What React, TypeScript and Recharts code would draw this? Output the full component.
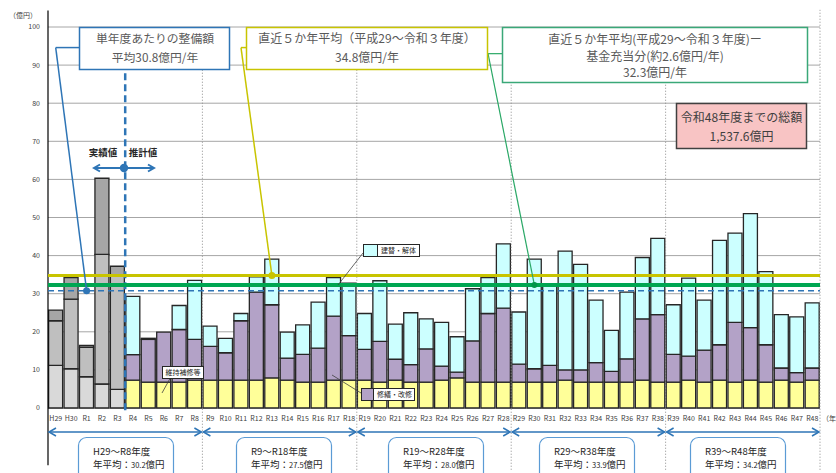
import React from 'react';
import { ComposedChart, Bar, XAxis, YAxis, CartesianGrid, ReferenceLine, ReferenceDot } from 'recharts';

// ---- data ----
const categories = [
  'H29', 'H30', 'R1', 'R2', 'R3', 'R4', 'R5', 'R6', 'R7', 'R8',
  'R9', 'R10', 'R11', 'R12', 'R13', 'R14', 'R15', 'R16', 'R17', 'R18',
  'R19', 'R20', 'R21', 'R22', 'R23', 'R24', 'R25', 'R26', 'R27', 'R28',
  'R29', 'R30', 'R31', 'R32', 'R33', 'R34', 'R35', 'R36', 'R37', 'R38',
  'R39', 'R40', 'R41', 'R42', 'R43', 'R44', 'R45', 'R46', 'R47', 'R48',
];

// actual values (H29–R3), grey stacks
const actualYears = ['H29', 'H30', 'R1', 'R2', 'R3'];
const actualLight = [11.2, 10.3, 8.2, 6.3, 4.9];
const actualMid = [11.7, 18.3, 7.7, 34.0, 30.0];
const actualDark = [2.8, 5.6, 0.5, 20.0, 2.3];

// estimates (R4–R48)
const estimateYears = [
  'R4', 'R5', 'R6', 'R7', 'R8', 'R9', 'R10', 'R11', 'R12', 'R13',
  'R14', 'R15', 'R16', 'R17', 'R18', 'R19', 'R20', 'R21', 'R22', 'R23',
  'R24', 'R25', 'R26', 'R27', 'R28', 'R29', 'R30', 'R31', 'R32', 'R33',
  'R34', 'R35', 'R36', 'R37', 'R38', 'R39', 'R40', 'R41', 'R42', 'R43',
  'R44', 'R45', 'R46', 'R47', 'R48',
];
const maintenance = [ // 維持補修等
  7.3, 6.8, 6.8, 6.8, 7.3, 7.3, 7.3, 7.3, 7.3, 7.9,
  7.3, 6.8, 6.8, 7.3, 7.3, 7.3, 6.8, 7.3, 6.8, 6.8,
  7.3, 7.9, 6.8, 6.8, 6.8, 6.8, 6.8, 6.8, 7.3, 6.8,
  6.8, 6.8, 6.8, 7.3, 6.8, 6.8, 7.3, 6.8, 7.3, 6.8,
  7.3, 6.8, 7.3, 6.8, 7.3,
];
const repair = [ // 修繕・改修
  6.7, 11.2, 13.1, 13.8, 10.7, 8.9, 7.2, 15.6, 23.1, 19.2,
  5.8, 7.3, 8.9, 16.8, 11.7, 8.1, 10.7, 5.5, 4.6, 8.7,
  3.7, 1.5, 10.8, 18.0, 19.4, 4.7, 3.5, 4.4, 2.7, 3.2,
  5.1, 2.8, 6.1, 16.1, 17.7, 7.3, 6.3, 8.4, 9.3, 15.7,
  13.8, 9.8, 3.2, 2.5, 3.2,
];
const rebuild = [ // 建替・解体
  15.3, 0.3, 0, 6.3, 15.5, 5.3, 3.8, 1.9, 4.0, 12.0,
  6.8, 7.7, 12.1, 10.1, 13.8, 9.4, 15.9, 9.2, 13.6, 7.9,
  11.5, 9.3, 13.7, 9.4, 16.9, 13.7, 28.8, 21.3, 31.2, 27.7,
  16.4, 10.8, 17.5, 16.1, 20.0, 13.0, 20.5, 13.1, 27.4, 23.4,
  29.9, 19.2, 14.0, 14.6, 17.1,
];

const yTicks = [0, 10, 20, 30, 40, 50, 60, 70, 80, 90, 100];

const avgAll = 30.8;        // 単年度あたりの整備額
const avgRecent = 34.8;     // 直近5か年平均
const avgRecentNet = 32.3;  // 基金充当分を除く

const periodLabels = ['H29～R8年度', 'R9～R18年度', 'R19～R28年度', 'R29～R38年度', 'R39～R48年度'];
const periodAverages = ['30.2', '27.5', '28.0', '33.9', '34.2'];
const periodFrom = ['H29', 'R9', 'R19', 'R29', 'R38'];
const periodTo = ['R9', 'R19', 'R29', 'R39', 'R48'];
const periodPos: ('start' | 'end')[] = ['start', 'start', 'start', 'start', 'end'];
const dividerYears = ['R9', 'R19', 'R29', 'R39'];

const data = categories.map((cat) => {
  const ai = actualYears.indexOf(cat);
  const ei = estimateYears.indexOf(cat);
  return {
    cat,
    g1: ai >= 0 ? actualLight[ai] : null,
    g2: ai >= 0 ? actualMid[ai] : null,
    g3: ai >= 0 ? actualDark[ai] : null,
    m: ei >= 0 ? maintenance[ei] : null,
    r: ei >= 0 ? repair[ei] : null,
    b: ei >= 0 && rebuild[ei] > 0 ? rebuild[ei] : null,
  };
});

// ---- styles ----
const BLUE = '#2e75b6';
const YELLOW = '#c8c400';
const GREEN = '#00a651';
const TEXT = '#595959';
const FONT = '"Noto Sans CJK JP", "Noto Sans", sans-serif';
const ARROW_Y = -6.3;

const ArrowShape = (p: any) => {
  const { x1, y1, x2, y2 } = p;
  const a = x1 + 1;
  const b = x2 - 1;
  return (
    <g stroke={BLUE} strokeWidth={1.5} fill="none">
      <line x1={a} y1={y1} x2={b} y2={y2} />
      <polyline points={`${a + 7},${y1 - 4} ${a},${y1} ${a + 7},${y1 + 4}`} />
      <polyline points={`${b - 7},${y2 - 4} ${b},${y2} ${b - 7},${y2 + 4}`} />
    </g>
  );
};

const groupBoxX = [78, 236, 388, 539, 690];

export default function App() {
  const barStroke = '#262626';
  return (
    <div style={{ position: 'absolute', left: 0, top: 0, width: 836, height: 473, background: '#fff', fontFamily: FONT, overflow: 'hidden' }}>
      <ComposedChart
        width={836}
        height={473}
        data={data}
        margin={{ top: 27, right: 16, bottom: 0, left: 0 }}
        barCategoryGap="4%"
      >
        <CartesianGrid vertical={false} stroke="#a6a6a6" strokeWidth={1} />
        <XAxis
          dataKey="cat"
          height={65}
          interval={0}
          tickLine={false}
          axisLine={false}
          tick={{ fontSize: 7, fill: '#404040' }}
        />
        <YAxis
          width={48}
          domain={[0, 100]}
          ticks={yTicks}
          tickLine={false}
          axisLine={false}
          tick={{ fontSize: 7, fill: '#404040' }}
        />
        <Bar dataKey="g1" stackId="s" fill="#d9d9d9" stroke={barStroke} strokeWidth={1.3} isAnimationActive={false} />
        <Bar dataKey="g2" stackId="s" fill="#bfbfbf" stroke={barStroke} strokeWidth={1.3} isAnimationActive={false} />
        <Bar dataKey="g3" stackId="s" fill="#a6a6a6" stroke={barStroke} strokeWidth={1.3} isAnimationActive={false} />
        <Bar dataKey="m" stackId="s" fill="#ffff99" stroke={barStroke} strokeWidth={1.3} isAnimationActive={false} />
        <Bar dataKey="r" stackId="s" fill="#b3a2c7" stroke={barStroke} strokeWidth={1.3} isAnimationActive={false} />
        <Bar dataKey="b" stackId="s" fill="#ccffff" stroke={barStroke} strokeWidth={1.3} isAnimationActive={false} />

        {/* dotted period dividers */}
        {dividerYears.map((c) => (
          <ReferenceLine key={'div' + c} segment={[{ x: c, y: -16.2 }, { x: c, y: 100 }]} position="start"
            ifOverflow="visible" stroke="#8c8c8c" strokeWidth={1} strokeDasharray="1 2" />
        ))}
        <ReferenceLine segment={[{ x: 'R48', y: -16.2 }, { x: 'R48', y: 104.5 }]} position="end"
          ifOverflow="visible" stroke="#8c8c8c" strokeWidth={1} strokeDasharray="1 2" />

        {/* y axis line (extended) */}
        <ReferenceLine segment={[{ x: 'H29', y: -15 }, { x: 'H29', y: 104.3 }]} position="start"
          ifOverflow="visible" stroke="#000" strokeWidth={1.2} />

        {/* actual / estimate divider */}
        <ReferenceLine segment={[{ x: 'R4', y: -0.6 }, { x: 'R4', y: 100 }]} position="start"
          ifOverflow="visible" stroke={BLUE} strokeWidth={2.5} strokeDasharray="7 4" />

        {/* average lines */}
        <ReferenceLine y={avgAll} ifOverflow="visible" stroke={BLUE} strokeWidth={1.5} strokeDasharray="6 4" />
        <ReferenceLine y={avgRecent} ifOverflow="visible" stroke={YELLOW} strokeWidth={3} />
        <ReferenceLine y={avgRecentNet} ifOverflow="visible" stroke={GREEN} strokeWidth={4} />

        {/* leader lines */}
        <ReferenceLine segment={[{ x: 'H29', y: 94.6 }, { x: 'R1', y: 94.6 }]} ifOverflow="visible" stroke={BLUE} strokeWidth={1.5} />
        <ReferenceLine segment={[{ x: 'H29', y: 94.6 }, { x: 'R1', y: avgAll }]} ifOverflow="visible" stroke={BLUE} strokeWidth={1.5} />
        <ReferenceLine segment={[{ x: 'R11', y: 94.6 }, { x: 'R12', y: 94.6 }]} ifOverflow="visible" stroke={YELLOW} strokeWidth={1.5} />
        <ReferenceLine segment={[{ x: 'R11', y: 94.6 }, { x: 'R13', y: avgRecent }]} ifOverflow="visible" stroke={YELLOW} strokeWidth={1.5} />
        <ReferenceLine segment={[{ x: 'R27', y: 93 }, { x: 'R29', y: 93 }]} ifOverflow="visible" stroke="#2aa866" strokeWidth={1.2} />
        <ReferenceLine segment={[{ x: 'R27', y: 93 }, { x: 'R30', y: avgRecentNet }]} ifOverflow="visible" stroke="#2aa866" strokeWidth={1.2} />
        <ReferenceDot x="R1" y={avgAll} r={3.5} fill={BLUE} stroke="none" ifOverflow="visible" />
        <ReferenceDot x="R13" y={avgRecent} r={3.5} fill={YELLOW} stroke="none" ifOverflow="visible" />
        <ReferenceDot x="R30" y={avgRecentNet} r={3} fill="#00964a" stroke="none" ifOverflow="visible" />

        {/* period arrows */}
        {periodFrom.map((f, i) => (
          <ReferenceLine key={'arr' + i} segment={[{ x: f, y: ARROW_Y }, { x: periodTo[i], y: ARROW_Y }]}
            position={periodPos[i]} ifOverflow="visible" shape={ArrowShape} />
        ))}
      </ComposedChart>

      <svg width={836} height={473} style={{ position: 'absolute', left: 0, top: 0, pointerEvents: 'none' }} fontFamily={FONT}>
        {/* unit labels */}
        <text x={23} y={17.5} fontSize={7} fill="#404040" textAnchor="middle">（億円）</text>
        <text x={822} y={420.5} fontSize={7} fill="#404040">（年度）</text>

        {/* blue box */}
        <rect x={79.5} y={27.5} width={150} height={42} fill="#fff" stroke={BLUE} strokeWidth={1.5} />
        <text x={155} y={42.5} fontSize={11.8} fill={TEXT} textAnchor="middle">単年度あたりの整備額</text>
        <text x={155} y={61.5} fontSize={11.8} fill={TEXT} textAnchor="middle">平均30.8億円/年</text>

        {/* yellow box */}
        <rect x={246.5} y={27.5} width={241} height={42} fill="#fff" stroke={YELLOW} strokeWidth={1.5} />
        <text x={367} y={42.5} fontSize={12} fill={TEXT} textAnchor="middle">直近５か年平均（平成29～令和３年度）</text>
        <text x={367} y={61.5} fontSize={12} fill={TEXT} textAnchor="middle">34.8億円/年</text>

        {/* green box */}
        <rect x={502.5} y={27.5} width={305} height={55} fill="#fff" stroke="#3aa878" strokeWidth={1.5} />
        <text x={655} y={44} fontSize={12} fill={TEXT} textAnchor="middle">直近５か年平均(平成29～令和３年度)ー</text>
        <text x={655} y={61} fontSize={12} fill={TEXT} textAnchor="middle">基金充当分(約2.6億円/年)</text>
        <text x={655} y={77} fontSize={12} fill={TEXT} textAnchor="middle">32.3億円/年</text>

        {/* pink total box */}
        <rect x={676.5} y={103.5} width={130} height={45} fill="#f8c4c4" stroke="#404040" strokeWidth={1.5} />
        <text x={741.5} y={122} fontSize={12} fill="#404040" textAnchor="middle">令和48年度までの総額</text>
        <text x={741.5} y={141} fontSize={12} fill="#404040" textAnchor="middle">1,537.6億円</text>

        {/* actual / estimate marker */}
        <text x={103} y={155.5} fontSize={9.5} fontWeight="bold" fill="#262626" textAnchor="middle">実績値</text>
        <text x={143} y={155.5} fontSize={9.5} fontWeight="bold" fill="#262626" textAnchor="middle">推計値</text>
        <g stroke={BLUE} strokeWidth={2} fill="none">
          <line x1={94} y1={168} x2={154} y2={168} />
          <polyline points="100,164.5 94,168 100,171.5" />
          <polyline points="148,164.5 154,168 148,171.5" />
        </g>
        <circle cx={124} cy={168} r={4.2} fill={BLUE} />

        {/* legend callouts */}
        <line x1={363} y1={253} x2={338} y2={285} stroke="#404040" strokeWidth={0.8} />
        <rect x={363.5} y={244.5} width={56} height={12} fill="#fff" stroke="#262626" strokeWidth={1} />
        <rect x={363.5} y={244.5} width={14} height={12} fill="#ccffff" stroke="#262626" strokeWidth={1} />
        <text x={381} y={253.3} fontSize={7} fill="#262626">建替・解体</text>

        <line x1={361} y1={393} x2={332} y2={375} stroke="#404040" strokeWidth={0.8} />
        <rect x={361.5} y={388.5} width={53} height={12} fill="#fff" stroke="#262626" strokeWidth={1} />
        <rect x={361.5} y={388.5} width={12} height={12} fill="#b3a2c7" stroke="#262626" strokeWidth={1} />
        <text x={377} y={397.3} fontSize={7} fill="#262626">修繕・改修</text>

        <line x1={170} y1={378.5} x2={162} y2={393} stroke="#404040" strokeWidth={0.8} />
        <rect x={162.5} y={366.5} width={41} height={12} fill="#fff" stroke="#262626" strokeWidth={1} />
        <text x={183} y={375.3} fontSize={7} fill="#262626" textAnchor="middle">維持補修等</text>

        {/* period boxes */}
        {groupBoxX.map((bx, i) => (
          <g key={'gb' + i}>
            <rect x={bx + 0.5} y={437.5} width={95} height={50} rx={8} fill="#fff" stroke="#5b9bd5" strokeWidth={1.2} />
            <text x={bx + 15} y={454.5} fontSize={9.5} fill="#262626">{periodLabels[i]}</text>
            <text x={bx + 15} y={467.5} fontSize={9.5} fill="#262626">
              年平均：<tspan fontSize={7.5}>{periodAverages[i]}</tspan>億円
            </text>
          </g>
        ))}
      </svg>
    </div>
  );
}
